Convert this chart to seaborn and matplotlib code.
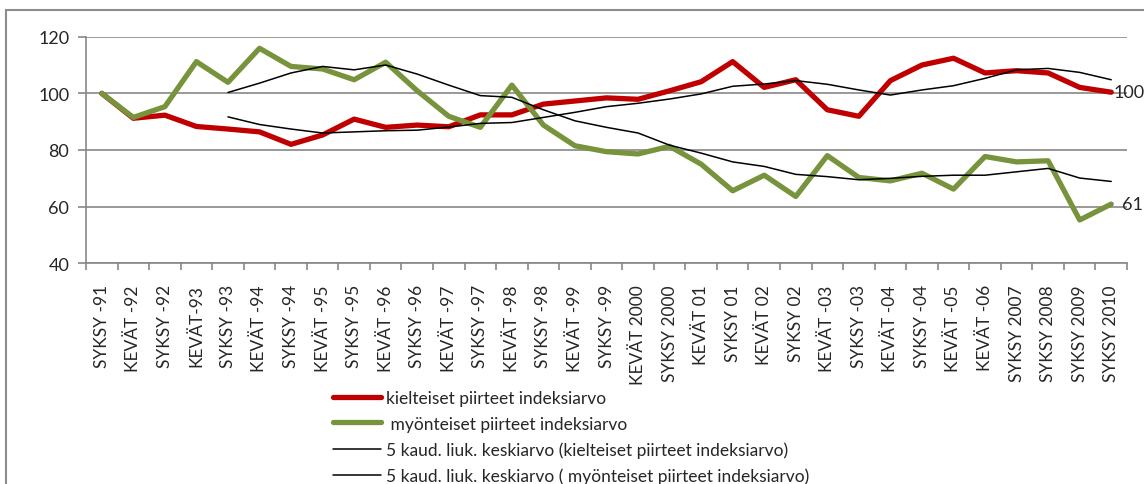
import numpy as np
import pandas as pd
import matplotlib
matplotlib.use("Agg")
import matplotlib.pyplot as plt
import seaborn as sns
from matplotlib.patches import Rectangle
from matplotlib.lines import Line2D

# categories (seasons)
kaudet = [
    "SYKSY -91", "KEVÄT -92", "SYKSY -92", "KEVÄT-93", "SYKSY -93", "KEVÄT -94",
    "SYKSY -94", "KEVÄT -95", "SYKSY -95", "KEVÄT -96", "SYKSY -96", "KEVÄT -97",
    "SYKSY -97", "KEVÄT -98", "SYKSY -98", "KEVÄT -99", "SYKSY -99", "KEVÄT 2000",
    "SYKSY 2000", "KEVÄT 01", "SYKSY 01", "KEVÄT 02", "SYKSY 02", "KEVÄT -03",
    "SYKSY -03", "KEVÄT -04", "SYKSY -04", "KEVÄT -05", "KEVÄT -06", "SYKSY 2007",
    "SYKSY 2008", "SYKSY 2009", "SYKSY 2010",
]

kielteiset = [100, 91.2, 92.3, 88.3, 87.4, 86.4, 82.0, 85.3, 90.9, 88.0, 88.8, 88.2,
              92.4, 92.4, 96.2, 97.3, 98.4, 97.9, 100.9, 104.1, 111.2, 102.1, 104.8,
              94.2, 91.9, 104.5, 110.0, 112.4, 107.2, 108.0, 107.2, 102.1, 100.4]

myonteiset = [100, 91.5, 95.3, 111.2, 103.9, 115.9, 109.5, 108.6, 104.8, 111.0, 100.9,
              91.9, 88.0, 102.9, 88.8, 81.5, 79.4, 78.6, 81.3, 75.0, 65.6, 71.1, 63.6,
              78.0, 70.3, 69.1, 71.8, 66.2, 77.7, 75.8, 76.2, 55.3, 60.9]

# 5-period moving averages (first four periods empty)
ka_kielteiset = [np.nan] * 4 + [91.7, 89.0, 87.4, 86.0, 86.4, 86.8, 87.0, 88.1, 89.4,
                                89.7, 91.5, 93.3, 95.3, 96.5, 98.0, 99.8, 102.5, 103.3,
                                104.5, 103.2, 101.2, 99.4, 101.2, 102.7, 105.3, 108.3,
                                108.8, 107.4, 104.8]
ka_myonteiset = [np.nan] * 4 + [100.3, 103.6, 107.2, 109.5, 108.3, 110.0, 106.8, 102.9,
                                99.2, 98.6, 94.2, 90.3, 88.0, 86.0, 81.7, 78.9, 75.8, 74.2,
                                71.4, 70.6, 69.5, 70.0, 70.7, 71.1, 71.1, 72.3, 73.5, 70.1,
                                68.9]

labels = [
    "kielteiset piirteet indeksiarvo",
    " myönteiset piirteet indeksiarvo",
    "5 kaud. liuk. keskiarvo (kielteiset piirteet indeksiarvo)",
    "5 kaud. liuk. keskiarvo ( myönteiset piirteet indeksiarvo)",
]

RED = "#C00000"
GREEN = "#77933C"
GRAY = "#878787"

sns.set_theme(style="white")
plt.rcParams["font.family"] = ["Lato", "DejaVu Sans"]

pos = np.arange(len(kaudet))
df = pd.DataFrame({"pos": pos, "kiel": kielteiset, "myon": myonteiset,
                   "ka_kiel": ka_kielteiset, "ka_myon": ka_myonteiset})

fig = plt.figure(figsize=(11.44, 4.85), dpi=100)
ax = fig.add_axes([86 / 1144, 1 - 264.3 / 485, (1127 - 86) / 1144, (264.3 - 37.7) / 485])

sns.lineplot(data=df, x="pos", y="kiel", ax=ax, color=RED, lw=3.8, zorder=3)
sns.lineplot(data=df, x="pos", y="myon", ax=ax, color=GREEN, lw=3.8, zorder=4)
sns.lineplot(data=df.dropna(), x="pos", y="ka_kiel", ax=ax, color="black", lw=1.1, zorder=5)
sns.lineplot(data=df.dropna(), x="pos", y="ka_myon", ax=ax, color="black", lw=1.1, zorder=5)

ax.set_xlim(-0.5, len(kaudet) - 0.5)
ax.set_ylim(40, 120)
ax.set_yticks([40, 60, 80, 100, 120])
ax.yaxis.grid(True, color=GRAY, lw=1.2)
ax.set_axisbelow(True)
ax.set_xlabel("")
ax.set_ylabel("")

# tick marks at category boundaries, labels at centres
ax.set_xticks(np.arange(-0.5, len(kaudet)), minor=False)
ax.set_xticklabels([])
ax.set_xticks(pos, minor=True)
ax.set_xticklabels(kaudet, minor=True, rotation=90, fontsize=12.5)
ax.tick_params(axis="x", which="major", direction="out", length=5, color=GRAY, width=1.2, bottom=True)
ax.tick_params(axis="x", which="minor", length=0, pad=15, bottom=True)
ax.tick_params(axis="y", direction="out", length=6, color=GRAY, width=1.2, left=True,
               labelsize=13, pad=6)

for s in ["top", "right"]:
    ax.spines[s].set_visible(False)
for s in ["left", "bottom"]:
    ax.spines[s].set_color(GRAY)
    ax.spines[s].set_linewidth(1.2)

# end-of-series value labels
ax.annotate(f"{kielteiset[-1]:.0f}", (pos[-1], kielteiset[-1]), xytext=(2, 0),
            textcoords="offset points", va="center", ha="left", fontsize=13,
            annotation_clip=False)
ax.annotate(f"{myonteiset[-1]:.0f}", (pos[-1], myonteiset[-1]), xytext=(8, 0),
            textcoords="offset points", va="center", ha="left", fontsize=13,
            annotation_clip=False)

# legend
handles = [
    Line2D([], [], color=RED, lw=3.8),
    Line2D([], [], color=GREEN, lw=3.8),
    Line2D([], [], color="black", lw=1.1),
    Line2D([], [], color="black", lw=1.1),
]
fig.legend(handles, labels, loc="upper left", bbox_to_anchor=(333 / 1144, 1 - 391 / 485),
           frameon=False, fontsize=12.5, handlelength=2.75, handletextpad=0.3,
           labelspacing=0.55, borderpad=0, borderaxespad=0)

# outer chart frame
fig.patches.append(Rectangle((6 / 1144, -0.05), 1.1, 1 - 11 / 485 + 0.05,
                             transform=fig.transFigure, fill=False,
                             edgecolor="#8c8c8c", lw=1.5, clip_on=False))

fig.savefig("out.png", dpi=100)
